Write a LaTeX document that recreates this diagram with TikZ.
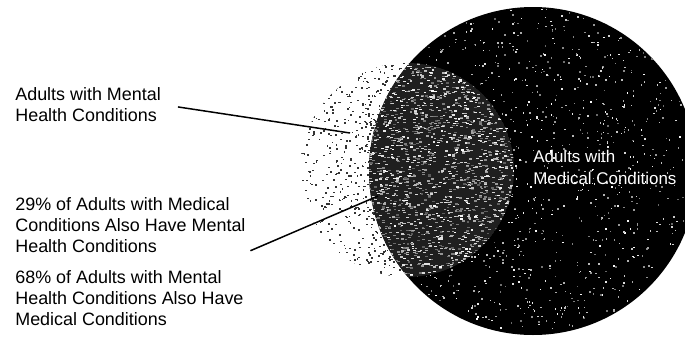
\documentclass[tikz,border=0pt]{standalone}
\usepackage{fontspec}
\setmainfont{Liberation Sans}
\usetikzlibrary{positioning,calc}

\begin{document}
\begin{tikzpicture}[
  font=\fontsize{10.2}{11.9}\selectfont,
  label text/.style={anchor=north west, align=left, inner sep=0pt},
  pointer/.style={line width=0.85pt, black}
]
  \useasboundingbox (0,0) rectangle (13.7,6.74);
  \pgfmathsetseed{2718}

  % Mental health circle (stippled fringe)
  \begin{scope}
    \clip (8.14,3.34) circle (2.14);
    \foreach \i in {1,...,1000} {
      \pgfmathsetmacro{\ang}{180+60*(2*rnd-1)}
      \pgfmathsetmacro{\dst}{3.2+1.6*rnd^1.3}
      \fill[black!80] ([shift={(10.66,3.32)}]\ang:\dst) rectangle ++(0.035,0.03);
    }
  \end{scope}

  % Medical circle
  \begin{scope}
    \clip (0,0) rectangle (13.7,6.74);
    \fill[black] (10.66,3.32) circle (3.28);
    \foreach \i in {1,...,1100} {
      \pgfmathsetmacro{\ang}{rnd*360}
      \pgfmathsetmacro{\dst}{3.25*sqrt(rnd)}
      \pgfmathtruncatemacro{\lum}{40+60*rnd}
      \fill[white!\lum!black] ([shift={(10.66,3.32)}]\ang:\dst) rectangle ++(0.03,0.03);
    }
  \end{scope}

  % Overlap of both circles
  \begin{scope}
    \clip (8.14,3.34) circle (2.14);
    \clip (10.66,3.32) circle (3.28);
    \fill[black!88] (8.14,3.34) circle (2.14);
    \foreach \i in {1,...,2200} {
      \pgfmathsetmacro{\ang}{rnd*360}
      \pgfmathsetmacro{\dst}{2.14*sqrt(rnd)}
      \pgfmathtruncatemacro{\lum}{35+65*rnd}
      \fill[white!\lum!black] ([shift={(8.14,3.34)}]\ang:\dst) rectangle ++(0.055,0.025);
    }
  \end{scope}

  % Labels
  \node[label text] (mhlabel) at (0.3,5.0) {Adults with Mental\\Health Conditions};
  \node[label text] (pctmed) at (0.3,2.8) {29\% of Adults with Medical\\Conditions Also Have Mental\\Health Conditions};
  \node[label text] (pctment) at (0.3,1.34) {68\% of Adults with Mental\\Health Conditions Also Have\\Medical Conditions};
  \node[label text, text=white, font=\fontsize{9.64}{12.5}\selectfont] (medlabel) at (10.66,3.74) {Adults with\\Medical Conditions};

  % Pointers
  \coordinate (mhpt) at (7.0,4.08);
  \coordinate (lenspt) at (7.56,2.82);
  \draw[pointer, shorten <=0.34cm] (mhlabel.east) -- (mhpt);
  \draw[pointer, shorten <=0.1cm] (pctmed.south east) -- (lenspt);

\end{tikzpicture}
\end{document}
